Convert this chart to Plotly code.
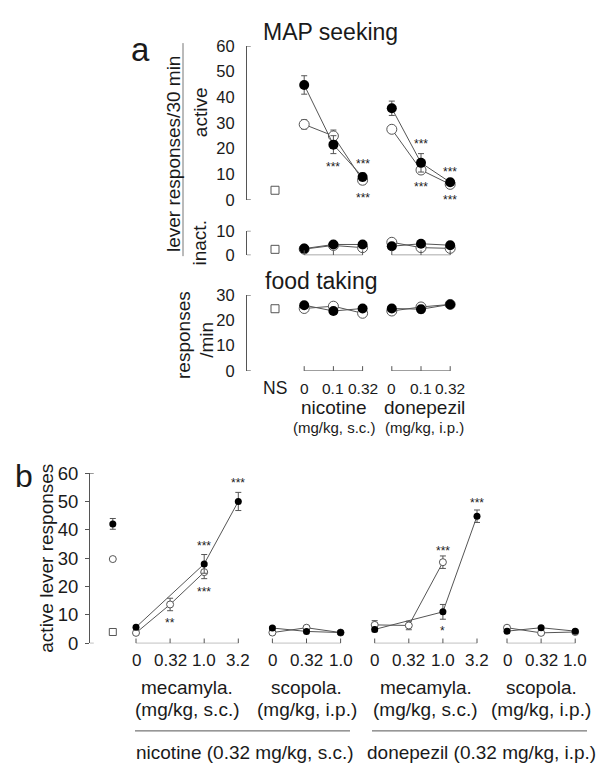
import plotly.graph_objects as go

# ---------------- DATA ----------------
# Panel a : MAP seeking / food taking
a_groups = ["nicotine", "donepezil"]
a_group_units = ["(mg/kg, s.c.)", "(mg/kg, i.p.)"]
a_dose_labels = ["0", "0.1", "0.32"]
a_ns_label = "NS"

act_ns = 3.7
act_filled = {"nicotine": [44.8, 21.5, 8.9], "donepezil": [35.7, 14.4, 6.8]}
act_filled_err = {"nicotine": [3.6, 3.5, 1.5], "donepezil": [2.8, 3.6, 0.9]}
act_open = {"nicotine": [29.4, 24.9, 7.6], "donepezil": [27.5, 11.6, 6.0]}
act_open_err = {"nicotine": [1.8, 2.3, 1.5], "donepezil": [0.8, 1.0, 0.8]}

inact_ns = 2.4
inact_filled = {"nicotine": [2.7, 4.4, 4.4], "donepezil": [3.7, 4.7, 4.1]}
inact_filled_err = {"nicotine": [1.0, 1.0, 0.6], "donepezil": [0.6, 0.6, 0.6]}
inact_open = {"nicotine": [2.5, 4.0, 3.1], "donepezil": [5.3, 3.1, 2.8]}
inact_open_err = {"nicotine": [0.5, 0.5, 0.5], "donepezil": [0.5, 0.5, 0.5]}

food_ns = 24.6
food_filled = {"nicotine": [26.0, 23.7, 24.7], "donepezil": [24.7, 24.4, 26.3]}
food_filled_err = {"nicotine": [0.6, 0.6, 0.6], "donepezil": [0.6, 1.5, 0.6]}
food_open = {"nicotine": [24.7, 25.6, 22.8], "donepezil": [23.7, 25.3, 26.3]}
food_open_err = {"nicotine": [0.5, 0.5, 0.5], "donepezil": [0.5, 0.5, 0.5]}

# significance marks, panel a active: (group, dose index, y, text)
a_stars = [("nicotine", 1, 14.0, "***"), ("nicotine", 2, 15.0, "***"), ("nicotine", 2, 2.0, "***"),
           ("donepezil", 1, 23.0, "***"), ("donepezil", 1, 6.0, "***"),
           ("donepezil", 2, 12.0, "***"), ("donepezil", 2, 1.0, "***")]

# Panel b : active lever responses
b_groups = ["mec_nic", "scop_nic", "mec_don", "scop_don"]
b_group_names = {"mec_nic": "mecamyla.", "scop_nic": "scopola.", "mec_don": "mecamyla.", "scop_don": "scopola."}
b_group_units = {"mec_nic": "(mg/kg, s.c.)", "scop_nic": "(mg/kg, i.p.)", "mec_don": "(mg/kg, s.c.)", "scop_don": "(mg/kg, i.p.)"}
b_dose_labels = {"mec_nic": ["0", "0.32", "1.0", "3.2"], "scop_nic": ["0", "0.32", "1.0"],
                 "mec_don": ["0", "0.32", "1.0", "3.2"], "scop_don": ["0", "0.32", "1.0"]}
b_pretreat = [("nicotine (0.32 mg/kg, s.c.)", ["mec_nic", "scop_nic"]),
              ("donepezil (0.32 mg/kg, i.p.)", ["mec_don", "scop_don"])]

b_pre_filled, b_pre_filled_err = 42.1, 1.9
b_pre_open = 29.7
b_pre_ns = 4.0

b_filled = {"mec_nic": [5.7, None, 28.0, 50.0], "scop_nic": [5.4, 4.2, 3.8],
            "mec_don": [4.9, None, 11.1, 44.8], "scop_don": [4.3, 5.5, 4.3]}
b_filled_err = {"mec_nic": [0.5, None, 3.3, 3.2], "scop_nic": [0.5, 0.5, 0.5],
                "mec_don": [0.8, None, 2.6, 2.2], "scop_don": [0.5, 0.5, 0.5]}
b_open = {"mec_nic": [3.7, 13.7, 25.1, None], "scop_nic": [3.8, 5.5, 3.8],
          "mec_don": [6.5, 6.3, 28.6, None], "scop_don": [5.5, 3.7, 4.0]}
b_open_err = {"mec_nic": [0.5, 2.2, 2.3, None], "scop_nic": [0.5, 0.5, 0.5],
              "mec_don": [1.5, 1.5, 2.2, None], "scop_don": [0.5, 0.5, 0.5]}

b_stars = [("mec_nic", 3, 57.4, "***"), ("mec_nic", 2, 35.4, "***"), ("mec_nic", 2, 19.2, "***"),
           ("mec_nic", 1, 8.3, "**"), ("mec_don", 2, 33.7, "***"), ("mec_don", 2, 5.5, "*"),
           ("mec_don", 3, 50.6, "***")]

# ---------------- LAYOUT HELPERS ----------------
W, H = 598, 773
FONT = "Liberation Sans, Arial, sans-serif"
TXT = "#1a1a1a"
LINE = "#555555"

def py(p):  # pixel row -> paper y
    return 1 - p / H

def px(p):
    return p / W

# positions along x (layout units)
a_pos = {"NS": 0, "nicotine": [1, 2, 3], "donepezil": [4, 5, 6]}
b_start = {"mec_nic": 0, "scop_nic": 4, "mec_don": 7, "scop_don": 10.88}
b_pre_x = -0.68
b_pos = {g: [b_start[g] + i for i in range(len(b_filled[g]))] for g in b_groups}

A_X0, A_STEP, A_AXIS = 275, 29.2, 247
B_X0, B_STEP, B_AXIS = 136, 34.1, 90

fig = go.Figure()

def joined(groups, pos, vals, errs):
    xs, ys, es = [], [], []
    for g in groups:
        if xs:
            xs.append(None); ys.append(None); es.append(0)
        for x, v, e in zip(pos[g], vals[g], errs[g]):
            if v is None:
                continue
            xs.append(x); ys.append(v); es.append(e)
    return xs, ys, es

def add_pair(groups, pos, fv, fe, ov, oe, xa, ya, msize):
    for vals, errs, filled in [(ov, oe, False), (fv, fe, True)]:
        xs, ys, es = joined(groups, pos, vals, errs)
        fig.add_trace(go.Scatter(
            x=xs, y=ys, xaxis=xa, yaxis=ya, mode="lines+markers", cliponaxis=False,
            line=dict(color=LINE, width=1),
            marker=dict(size=msize, color="black" if filled else "white",
                        line=dict(color="black" if filled else "#555555", width=0 if filled else 1)),
            error_y=dict(type="data", array=es, color="#555555", thickness=1, width=3),
            showlegend=False, hoverinfo="skip"))

def add_ns(y, xa, ya, size, x=0):
    fig.add_trace(go.Scatter(x=[x], y=[y], xaxis=xa, yaxis=ya, mode="markers", cliponaxis=False,
                             marker=dict(symbol="square", size=size, color="white",
                                         line=dict(color="#555555", width=1)),
                             showlegend=False, hoverinfo="skip"))

# panel a traces
add_pair(a_groups, a_pos, act_filled, act_filled_err, act_open, act_open_err, "x", "y", 10)
add_ns(act_ns, "x", "y", 8)
add_pair(a_groups, a_pos, inact_filled, inact_filled_err, inact_open, inact_open_err, "x", "y2", 10)
add_ns(inact_ns, "x", "y2", 8)
add_pair(a_groups, a_pos, food_filled, food_filled_err, food_open, food_open_err, "x", "y3", 10)
add_ns(food_ns, "x", "y3", 8)

# panel b traces
add_pair(b_groups, b_pos, b_filled, b_filled_err, b_open, b_open_err, "x2", "y4", 7)
fig.add_trace(go.Scatter(x=[b_pre_x], y=[b_pre_open], xaxis="x2", yaxis="y4", mode="markers",
                         cliponaxis=False,
                         marker=dict(size=7, color="white", line=dict(color="#555555", width=1)),
                         showlegend=False, hoverinfo="skip"))
fig.add_trace(go.Scatter(x=[b_pre_x], y=[b_pre_filled], xaxis="x2", yaxis="y4", mode="markers",
                         cliponaxis=False, marker=dict(size=7, color="black"),
                         error_y=dict(type="data", array=[b_pre_filled_err], color="#555555",
                                      thickness=1, width=3),
                         showlegend=False, hoverinfo="skip"))
add_ns(b_pre_ns, "x2", "y4", 7, x=b_pre_x)

# ---------------- AXES ----------------
yax_common = dict(showline=True, linecolor=LINE, linewidth=1, showgrid=False, zeroline=False,
                  fixedrange=True)
fa = dict(family=FONT, size=16.5, color=TXT)
fb = dict(family=FONT, size=18.5, color=TXT)

fig.update_layout(
    width=W, height=H, margin=dict(l=0, r=0, t=0, b=0),
    paper_bgcolor="white", plot_bgcolor="white",
    font=dict(family=FONT, color=TXT),
    xaxis=dict(domain=[px(A_AXIS), 1], range=[(A_AXIS - A_X0) / A_STEP, (W - A_X0) / A_STEP],
               visible=False, anchor="y3"),
    yaxis=dict(domain=[py(194), py(36)], range=[0, 60], tickvals=[0, 10, 20, 30, 40, 50, 60],
               anchor="x", ticks="", ticklabelstandoff=8, tickfont=fa, **yax_common),
    yaxis2=dict(domain=[py(251), py(226)], range=[0, 10], tickvals=[0, 10],
                anchor="x", ticks="", ticklabelstandoff=8, tickfont=fa, **yax_common),
    yaxis3=dict(domain=[py(370), py(292)], range=[0, 30], tickvals=[0, 10, 20, 30],
                anchor="x", ticks="", ticklabelstandoff=8, tickfont=fa, **yax_common),
    xaxis2=dict(domain=[px(B_AXIS), 1], range=[(B_AXIS - B_X0) / B_STEP, (W - B_X0) / B_STEP],
                visible=False, anchor="y4"),
    yaxis4=dict(domain=[py(650), py(475)], range=[0, 60], tickvals=[0, 10, 20, 30, 40, 50, 60],
                anchor="x2", ticks="outside", ticklen=4, tickcolor=LINE, ticklabelstandoff=3,
                tickfont=fb, **yax_common),
)

shapes = []
ann = []

def bracket(xs, xa, ya, tick_h):
    shapes.append(dict(type="line", xref=xa, yref=ya, x0=xs[0], x1=xs[-1], y0=0, y1=0,
                       line=dict(color=LINE, width=1)))
    for x in xs:
        shapes.append(dict(type="line", xref=xa, yref=ya, x0=x, x1=x, y0=0, y1=tick_h,
                           line=dict(color=LINE, width=1)))

for g in a_groups:
    bracket(a_pos[g], "x", "y2", 2.0)
    bracket(a_pos[g], "x", "y3", 1.9)
for g in b_groups:
    bracket(b_pos[g], "x2", "y4", 1.7)

# end stubs on y axes
a_xmin = (A_AXIS - A_X0) / A_STEP
b_xmin = (B_AXIS - B_X0) / B_STEP
for ya, vals in [("y", [0, 60]), ("y2", [0, 10]), ("y3", [0, 30])]:
    for v in vals:
        shapes.append(dict(type="line", xref="x", yref=ya, x0=a_xmin, x1=a_xmin + 0.13, y0=v, y1=v,
                           line=dict(color=LINE, width=1)))
for v in [0, 60]:
    shapes.append(dict(type="line", xref="x2", yref="y4", x0=b_xmin, x1=b_xmin + 0.11, y0=v, y1=v,
                       line=dict(color=LINE, width=1)))

# bracket line next to "lever responses/30 min"
shapes.append(dict(type="line", xref="paper", yref="paper", x0=px(183), x1=px(183), y0=py(33), y1=py(252),
                   line=dict(color="#777777", width=1)))

def t(text, x, y, size, angle=0, xref="paper", yref="paper", **kw):
    ann.append(dict(text=text, x=x, y=y, xref=xref, yref=yref, showarrow=False, textangle=angle,
                    xanchor="center", yanchor="middle",
                    font=dict(size=size, family=FONT, color=TXT), **kw))

# pretreatment lines in panel b
for (label, gs), (l, r) in zip(b_pretreat, [(135, 350), (372, 587)]):
    shapes.append(dict(type="line", xref="paper", yref="paper", x0=px(l), x1=px(r), y0=py(740), y1=py(740),
                       line=dict(color="#555555", width=1)))
    t(label, px((l + r) / 2 + 2), py(762), 19)

# panel a texts
t("a", px(140), py(40), 33)
t("MAP seeking", px(330), py(22), 23)
t("food taking", px(321), py(278), 23)
t("lever responses/30 min", px(173), py(147), 19, angle=-90)
t("active", px(200), py(104), 19, angle=-90)
t("inact.", px(200), py(239), 19, angle=-90)
t("responses", px(184), py(333), 19, angle=-90)
t("/min", px(207), py(338), 19, angle=-90)

t(a_ns_label, a_pos["NS"], py(388), 17.5, xref="x")
for gi, g in enumerate(a_groups):
    for x, lab in zip(a_pos[g], a_dose_labels):
        t(lab, x, py(388), 15.5, xref="x")
    cx = sum(a_pos[g]) / len(a_pos[g])
    t(g, cx + 0.08 * (gi + 0.3), py(408), 19, xref="x")
    t(a_group_units[gi], cx + 0.08 * (gi + 0.3), py(428), 15, xref="x")

for g, i, y, s in a_stars:
    t(s, a_pos[g][i], y, 12, xref="x", yref="y", yshift=-3)

# panel b texts
t("b", px(24), py(478), 32)
t("active lever responses", px(47), py(563), 19, angle=-90)
for g in b_groups:
    for x, lab in zip(b_pos[g], b_dose_labels[g]):
        t(lab, x, py(668), 17, xref="x2")
    cx = sum(b_pos[g]) / len(b_pos[g])
    t(b_group_names[g], cx, py(695), 19, xref="x2")
    t(b_group_units[g], cx, py(718), 19, xref="x2")
for g, i, y, s in b_stars:
    t(s, b_pos[g][i], y, 12, xref="x2", yref="y4", yshift=-3)

fig.update_layout(shapes=shapes, annotations=ann)
fig.write_html("out.html")
